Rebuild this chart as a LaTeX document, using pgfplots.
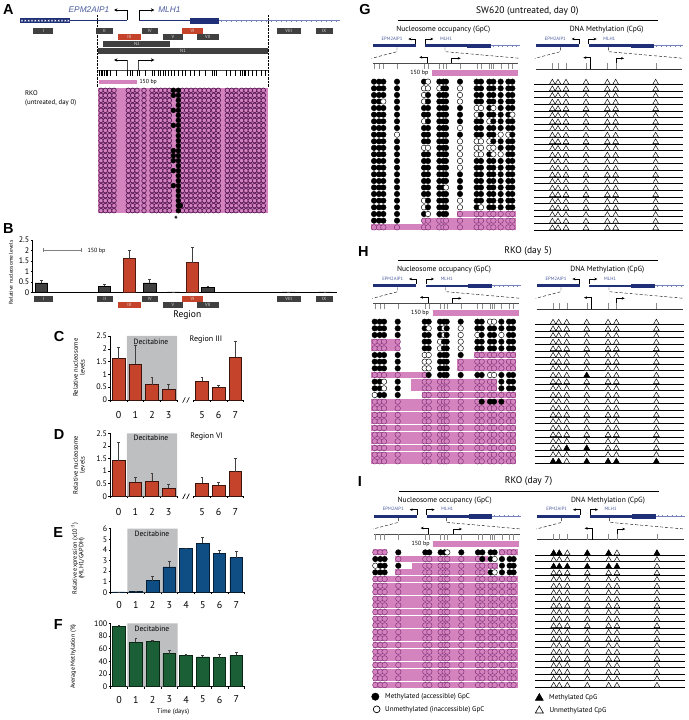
\documentclass[border=0pt]{standalone}
\usepackage{fontspec}
\usepackage{pgfplots}
\usepackage{pgfplotstable}
\pgfplotsset{compat=1.18}
\usetikzlibrary{arrows.meta}
\setmainfont{PT Sans}
\newfontfamily\hel{Liberation Sans}

\definecolor{navybar}{HTML}{1F2F78}
\definecolor{tailblue}{HTML}{7482BE}
\definecolor{genetext}{HTML}{4A5A9E}
\definecolor{pinkbar}{HTML}{D583BF}
\definecolor{circ}{HTML}{7A2F73}
\definecolor{circdark}{HTML}{571B57}
\definecolor{boxgray}{HTML}{404040}
\definecolor{boxred}{HTML}{C5432A}
\definecolor{barblue}{HTML}{0F4E85}
\definecolor{bargreen}{HTML}{1A5F35}
\definecolor{deci}{HTML}{BEBFC1}

\newcommand\fs[1]{\fontsize{#1}{#1}\selectfont}
\newcommand\panel[3]{\node[font=\hel\bfseries\fs{14.5},inner sep=0pt] at (#1,#2) {#3};}
\newcommand\regbox[6]{\fill[#5] (#1,#2) rectangle (#3,#4) node[midway,text=white!75!gray,font=\fs{4.6},inner sep=0pt] {#6};}

\pgfplotsset{
  zoomed/.style 2 args={hide axis,scale only axis,clip=false,
    xmin=0,xmax=1014,ymin=0,ymax=720,y dir=reverse,
    width=338pt,height=240pt,at={(#1pt,#2pt)},anchor=south west,
    unbounded coords=jump},
  pinkrows/.style={pinkbar,line width=5.8pt,line cap=butt,forget plot},
  gpc/.style={scatter,only marks,scatter src=explicit symbolic,mark size=2.75pt,line width=.45pt,
    scatter/classes={
      0={mark=*,fill=white,draw=black},
      1={mark=*,fill=black,draw=black},
      2={mark=*,fill=pinkbar,draw=circ}}},
  cpgopen/.style={only marks,mark=triangle*,mark size=3.3pt,mark options={fill=white,draw=black,line width=.45pt}},
  cpgfull/.style={only marks,mark=triangle*,mark size=3.3pt,mark options={fill=black,draw=black,line width=.45pt}},
  barax/.style={scale only axis,axis x line=bottom,axis y line=left,axis line style={-,line width=.6pt},
    tick style={black,line width=.5pt},tick align=outside,major tick length=2.2pt,
    /pgf/number format/assume math mode=true,
    yticklabel style={font=\fs{8},inner sep=1pt},
    xticklabel style={font=\fs{10}},clip=false},
  days/.style={x tick label as interval,xmin=-0.5,xmax=7.5,xtick={-0.5,0.5,...,7.5}},
  valbar/.style 2 args={ybar,bar shift=0pt,bar width=12.7pt,fill=#1,draw=#2,line width=.7pt,
    error bars/.cd,y dir=plus,y explicit,
    error bar style={draw=black!75,line width=.7pt},
    error mark options={rotate=90,mark size=1.3pt,draw=black!75,line width=.6pt}},
}

% GpC rows: one column per GpC site, 0 open, 1 filled, 2 open on a pink footprint
\pgfplotstableread{
y 72 87 100 141 222 234 268 280 288 330 380 393 418 430 452 475 487
245 1 1 1 1 1 0 1 1 1 1 1 1 1 1 1 1 1
265 1 1 1 1 0 0 0 1 1 0 1 1 1 1 1 1 1
285 1 1 1 1 0 1 1 1 1 0 1 1 1 1 1 1 1
304.5 1 1 0 1 0 1 1 1 1 0 1 1 1 1 1 1 1
324 1 1 1 1 1 1 1 1 1 1 0 0 1 0 1 1 1
344 1 1 1 1 1 1 1 1 1 1 0 1 1 1 1 1 0
364 1 1 1 1 0 1 1 1 1 1 1 1 0 1 1 1 1
384 1 1 1 1 1 1 1 1 1 0 1 1 1 1 1 1 1
404 1 1 1 0 1 1 1 1 1 1 1 1 1 1 0 0 1
424 1 1 1 1 1 1 1 1 1 0 0 0 0 1 1 1 1
443.5 1 1 1 1 0 0 1 1 1 0 0 0 0 0 1 1 1
463 1 1 1 1 1 1 1 1 1 0 0 0 1 0 0 1 1
483 1 1 1 1 1 1 1 1 1 0 1 1 1 1 1 1 1
503 1 1 1 1 1 1 1 1 1 0 1 1 1 1 1 1 1
523 1 1 1 1 1 1 1 1 1 1 1 1 1 1 1 1 1
543 1 1 1 1 1 1 1 1 1 1 1 1 1 1 1 1 1
562.5 1 1 1 1 1 1 1 1 0 1 1 1 1 1 1 1 1
582 1 1 1 1 1 1 1 1 1 1 1 1 1 1 1 1 1
602 1 1 1 1 0 1 1 1 1 0 1 1 1 1 1 1 1
622 1 1 1 1 0 1 1 1 1 0 1 0 1 1 1 1 1
642 1 1 1 1 1 0 1 1 1 2 2 2 2 2 2 2 2
662 1 1 1 1 2 2 2 2 2 2 2 2 2 2 2 2 2
682 2 2 2 2 2 2 2 2 2 2 2 2 2 2 2 2 2
}\TabG
\pgfplotstableread{
y 72 87 100 141 222 234 268 280 288 330 380 393 418 430 452 475 487
245 1 1 1 1 1 1 1 1 1 1 1 1 0 0 1 1 1
265 1 1 1 1 1 0 1 0 1 0 1 1 1 1 1 1 1
285 1 1 1 1 1 1 1 0 1 0 0 1 1 1 0 1 1
305 2 2 2 2 1 1 0 1 1 0 1 1 1 1 1 1 1
325 2 2 2 2 1 1 0 1 1 0 1 1 1 1 1 1 1
345 1 1 1 1 0 0 1 1 1 1 2 2 2 2 2 2 2
365 1 1 1 1 0 0 1 1 1 2 2 2 2 2 2 2 2
385 1 1 1 1 0 0 1 1 1 2 2 2 2 2 2 2 2
405 2 2 2 2 2 1 1 1 1 1 1 1 0 0 1 1 1
425 1 1 0 1 2 2 2 2 2 2 2 2 2 2 1 1 1
445 1 1 0 1 2 2 2 2 2 2 2 2 2 2 1 1 1
465 0 1 1 1 2 2 2 2 2 2 2 2 2 2 2 2 2
485 2 2 2 2 2 2 2 2 2 2 2 1 1 1 1 2 2
505 2 2 2 2 2 2 2 2 2 2 2 2 2 2 2 2 2
525 2 2 2 2 2 2 2 2 2 2 2 2 2 2 2 2 2
544 2 2 2 2 2 2 2 2 2 2 2 2 2 2 2 2 2
564 2 2 2 2 2 2 2 2 2 2 2 2 2 2 2 2 2
584 2 2 2 2 2 2 2 2 2 2 2 2 2 2 2 2 2
604 2 2 2 2 2 2 2 2 2 2 2 2 2 2 2 2 2
624 2 2 2 2 2 2 2 2 2 2 2 2 2 2 2 2 2
644 2 2 2 2 2 2 2 2 2 2 2 2 2 2 2 2 2
664 2 2 2 2 2 2 2 2 2 2 2 2 2 2 2 2 2
}\TabH
\pgfplotstableread{
y 72 87 100 141 222 234 268 280 288 330 380 393 418 430 452 475 487
245 2 2 2 1 1 1 1 1 0 1 1 1 1 1 2 2 2
265 1 1 1 2 2 2 2 2 2 2 2 1 1 0 1 1 1
285 0 1 1 1 2 2 2 2 2 2 2 2 2 2 1 1 1
305 1 1 1 2 2 2 2 2 2 2 2 2 1 0 1 1 1
325 2 2 2 2 2 2 2 2 2 2 2 2 2 2 2 2 2
345 2 2 2 2 2 2 2 2 2 2 2 2 2 2 2 2 2
364 2 2 2 2 2 2 2 2 2 2 2 2 2 2 2 2 2
384 2 2 2 2 2 2 2 2 2 2 2 2 2 2 2 2 2
404 2 2 2 2 2 2 2 2 2 2 2 2 2 2 2 2 2
424 2 2 2 2 2 2 2 2 2 2 2 2 2 2 2 2 2
444 2 2 2 2 2 2 2 2 2 2 2 2 2 2 2 2 2
464 2 2 2 2 2 2 2 2 2 2 2 2 2 2 2 2 2
484 2 2 2 2 2 2 2 2 2 2 2 2 2 2 2 2 2
503 2 2 2 2 2 2 2 2 2 2 2 2 2 2 2 2 2
523 2 2 2 2 2 2 2 2 2 2 2 2 2 2 2 2 2
543 2 2 2 2 2 2 2 2 2 2 2 2 2 2 2 2 2
563 2 2 2 2 2 2 2 2 2 2 2 2 2 2 2 2 2
583 2 2 2 2 2 2 2 2 2 2 2 2 2 2 2 2 2
603 2 2 2 2 2 2 2 2 2 2 2 2 2 2 2 2 2
623 2 2 2 2 2 2 2 2 2 2 2 2 2 2 2 2 2
643 2 2 2 2 2 2 2 2 2 2 2 2 2 2 2 2 2
}\TabI
% CpG rows: height of the open triangles, one per read
\pgfplotstableread{
y
247.6
267.4
287.3
307.1
327
346.9
366.7
386.5
406.4
426.2
446.1
466
485.8
505.6
525.5
545.3
565.2
585
604.9
624.8
644.6
664.5
684.3
}\TabCpg
\pgfplotstableread{
y
271
286
301
316
331
346
361
376
391
407
422
437
452
467
482
497
512
527
542
557
572
587
602
617
632
}\TabA

\newcommand\gpcrows[1]{%
  \pgfplotsinvokeforeach{72,87,100,141,222,234,268,280,288,330,380,393,418,430,452,475,487}{%
    \addplot[gpc] table[x expr=##1,y=y,meta=##1]{#1};}}
\newcommand\cpgrows[1]{%
  \pgfplotsinvokeforeach{607,624,648,708,772,797,917}{%
    \addplot[cpgopen,skip coords between index={#1}{99}] table[x expr=##1,y=y]{\TabCpg};}}
\newcommand\cpglines[1]{%
  \pgfplotsinvokeforeach{#1}{\addplot[black,line width=.55pt] coordinates {(552,##1) (1000,##1)};}}

\newcommand\genemap[1]{%
  \node[font=\fs{9.5},inner sep=0pt] at (532,32) {#1};
  \draw[line width=.55pt] (143,61) -- (923,61);
  \node[font=\fs{7.5},inner sep=0pt] at (280,90) {Nucleosome occupancy (GpC)};
  \node[font=\fs{7.5},inner sep=0pt] at (770,90) {DNA Methylation (CpG)};
  \pgfplotsinvokeforeach{0,490}{%
    \fill[navybar] ({68+##1},133) rectangle ({197+##1},142);
    \fill[navybar] ({226+##1},133.5) rectangle ({352+##1},141.5);
    \fill[navybar] ({352+##1},131) rectangle ({423+##1},145);
    \draw[tailblue,line width=.6pt] ({423+##1},137) -- ({510+##1},137);
    \draw[line width=.45pt,-{Stealth[length=3pt,width=2.6pt]}] ({197+##1},133) -- ({197+##1},117) -- ({175+##1},117);
    \draw[line width=.45pt,-{Stealth[length=3pt,width=2.6pt]}] ({226+##1},133) -- ({226+##1},117) -- ({250+##1},117);
    \node[font=\fs{4.7},text=genetext,inner sep=0pt] at ({126+##1},115) {EPM2AIP1};
    \node[font=\fs{4.7},text=genetext,inner sep=0pt] at ({288+##1},115) {MLH1};
    \draw[line width=.4pt,densely dashed] ({141+##1},142) -- ({141+##1},155) -- ({65+##1},175);
    \draw[line width=.4pt,densely dashed] ({285+##1},142) -- ({285+##1},155) -- ({510+##1},175);
    \addplot[only marks,mark=+,mark size=1pt,tailblue,mark options={line width=.4pt}] coordinates
      {({430+##1},137) ({444+##1},137) ({458+##1},137) ({472+##1},137) ({486+##1},137) ({500+##1},137)};
  }
  \draw[black!70,line width=.5pt] (68,190) -- (505,190);
  \addplot[only marks,mark=|,mark size=2.6pt,black!45,mark options={line width=.3pt}] coordinates
    {(72,199) (87,199) (100,199) (141,199) (222,199) (234,199) (268,199) (280,199) (288,199)
     (330,199) (380,199) (393,199) (418,199) (424,199) (430,199) (452,199) (475,199) (487,199)};
  \draw[line width=.45pt,-{Stealth[length=3pt,width=2.6pt]}] (232,190) -- (232,172) -- (208,172);
  \draw[line width=.45pt,-{Stealth[length=3pt,width=2.6pt]}] (305,190) -- (305,175) -- (332,175);
  \addplot[pinkbar,line width=6pt] coordinates {(246,219) (504,219)};
  \node[font=\fs{6},inner sep=0pt] at (208,219) {150 bp};
  \draw[black!80,line width=.5pt] (558,207) -- (997,207);
  \addplot[only marks,mark=|,mark size=2.8pt,black!45,mark options={line width=.3pt}] coordinates
    {(607,198) (624,198) (648,198) (708,198) (772,198) (797,198) (917,198)};
  \draw[line width=.6pt,-{Stealth[length=3pt,width=2.6pt]}] (722,207) -- (722,173) -- (700,173);
  \draw[line width=.45pt,-{Stealth[length=3pt,width=2.6pt]}] (798,207) -- (798,175) -- (822,175);
}

\begin{document}
\begin{tikzpicture}
\path[use as bounding box] (0,0) rectangle (688pt,720pt);

% ---------- A, and the letter B
\begin{axis}[zoomed={0}{480}]
  \panel{25}{28}{A}
  \panel{25}{685}{B}
  \fill[navybar] (60,55) rectangle (210,69);
  \addplot[only marks,mark=x,mark size=1.1pt,white,mark options={line width=.4pt}] coordinates
    {(66,62) (76,62) (86,62) (96,62) (106,62) (116,62) (126,62) (136,62) (146,62) (156,62)
     (166,62) (176,62) (186,62) (196,62) (205,62)};
  \draw[navybar,line width=1.3pt] (210,62) -- (382,62);
  \draw[navybar,line width=1.3pt] (418,62) -- (570,62);
  \fill[navybar] (570,54) rectangle (657,71);
  \draw[tailblue,line width=.6pt] (657,62) -- (1020,62);
  \addplot[only marks,mark=+,mark size=.9pt,tailblue,mark options={line width=.35pt}] coordinates
    {(665,62) (680,62) (695,62) (710,62) (725,62) (740,62) (755,62) (770,62) (785,62) (800,62)
     (815,62) (830,62) (845,62) (860,62) (875,62) (890,62) (905,62) (920,62) (935,62) (950,62)
     (965,62) (980,62) (995,62) (1010,62)};
  \draw[black,line width=.7pt,-{Stealth[length=3.5pt,width=3.4pt]}] (382,60) -- (382,30) -- (342,30);
  \draw[black,line width=.7pt,-{Stealth[length=3.5pt,width=3.4pt]}] (418,60) -- (418,30) -- (463,30);
  \node[font=\hel\itshape\fs{8.3},text=genetext,inner sep=0pt] at (267,30) {EPM2AIP1};
  \node[font=\hel\itshape\fs{8.3},text=genetext,inner sep=0pt] at (508,30) {MLH1};
  \draw[line width=.4pt,densely dotted] (293,45) -- (293,262);
  \draw[line width=.4pt,densely dotted] (805,45) -- (805,262);
  \regbox{100}{83}{160}{101}{boxgray}{I}
  \regbox{288}{83}{338}{101}{boxgray}{II}
  \regbox{425}{83}{473}{101}{boxgray}{IV}
  \regbox{830}{83}{902}{101}{boxgray}{VIII}
  \regbox{947}{83}{998}{101}{boxgray}{IX}
  \regbox{354}{102}{422}{120}{boxred}{III}
  \regbox{547}{83}{608}{101}{boxred}{VI}
  \regbox{488}{103}{550}{120}{boxgray}{V}
  \regbox{590}{103}{657}{120}{boxgray}{VII}
  \regbox{310}{123}{511}{141}{boxgray}{N2}
  \regbox{293}{144}{805}{161}{boxgray}{N1}
  \draw[black!70,line width=.6pt] (382,210) -- (382,180);
  \draw[black,line width=.6pt,-{Stealth[length=3.5pt,width=3.4pt]}] (382,180) -- (342,180);
  \draw[black!70,line width=.6pt] (415,210) -- (415,180);
  \draw[black,line width=.6pt,-{Stealth[length=3.5pt,width=3.4pt]}] (415,180) -- (463,180);
  \draw[black!70,line width=.5pt] (293,210) -- (805,210);
  \addplot[only marks,mark=|,mark size=2.6pt,black,mark options={line width=.45pt}] coordinates
    {(298,219) (303,219) (308,219) (313,219) (318,219) (323,219) (330,219) (350,219) (382,219)
     (390,219) (398,219) (412,219) (418,219) (436,219) (458,219) (463,219) (476,219) (480,219)
     (490,219) (497,219) (505,219) (513,219) (522,219) (535,219) (546,219) (556,219) (570,219)
     (583,219) (598,219) (616,219) (637,219) (643,219) (650,219) (680,219) (690,219) (705,219)
     (722,219) (727,219) (732,219) (737,219) (746,219) (756,219) (768,219) (783,219) (796,219)};
  \addplot[pinkbar,line width=4pt] coordinates {(297,245) (412,245)};
  \node[font=\fs{5.8},inner sep=0pt,anchor=west] at (418,245) {150 bp};
  \node[font=\fs{6.8},inner sep=0pt,anchor=west] at (75,278) {RKO};
  \node[font=\fs{6.8},inner sep=0pt,anchor=west] at (75,307) {(untreated, day 0)};
  \fill[pinkbar] (293,264) rectangle (803,640);
  \pgfplotsinvokeforeach{303,316,329,342,385,398,411,432,456,469,482,495,508,547,560,573,586,600,613,626,641,655,682,695,708,725,738,751,764,777,790}{%
    \addplot[only marks,mark=*,mark size=2.3pt,mark options={fill=pinkbar,draw=circdark,line width=.7pt}] table[x expr=#1,y=y]{\TabA};}
  \addplot[only marks,mark=*,mark size=2.5pt,black] coordinates
    {(520,271) (520,286) (520,331) (520,376) (520,452) (520,467) (520,482) (520,512) (520,557)};
  \addplot[only marks,mark=*,mark size=2.5pt,black] table[x expr=535,y=y]{\TabA};
  \addplot[only marks,mark=*,mark size=2.5pt,black] coordinates {(541,617)};
  \node[font=\bfseries\fs{10},inner sep=0pt] at (528,660) {*};
\end{axis}

% ---------- B
\begin{axis}[barax,at={(32.7pt,427.7pt)},anchor=south west,width=304pt,height=52.3pt,
    xmin=98,xmax=1010,ymin=0,ymax=2.5,xtick=\empty,ytick={0,0.5,...,2.5}]
  \addplot[valbar={boxgray}{black}] coordinates
    {(124,0.45) +- (0,0.13) (313,0.3) +- (0,0.1) (449,0.45) +- (0,0.17) (520,0.015) +- (0,0)
     (624,0.25) +- (0,0.05) (866,0.015) +- (0,0) (975,0.015) +- (0,0)};
  \addplot[valbar={boxred}{black!60!boxred}] coordinates {(388,1.6) +- (0,0.43) (577,1.42) +- (0,0.73)};
\end{axis}

% ---------- C
\begin{axis}[barax,days,at={(110.3pt,320pt)},anchor=south west,width=133.4pt,height=64pt,
    xticklabel style={yshift=-6pt},
    ymin=0,ymax=2.5,ytick={0,0.5,...,2.5},xticklabels={0,1,2,3,,5,6,7}]
  \addplot[fill=deci,draw=none,forget plot] coordinates {(0.5,0) (3.5,0) (3.5,2.5) (0.5,2.5)} \closedcycle;
  \addplot[valbar={boxred}{black!70!boxred}] coordinates
    {(0,1.62) +- (0,0.43) (1,1.4) +- (0,0.72) (2,0.6) +- (0,0.28) (3,0.42) +- (0,0.2)
     (5,0.73) +- (0,0.14) (6,0.5) +- (0,0.08) (7,1.67) +- (0,0.61)};
\end{axis}

% ---------- D
\begin{axis}[barax,days,at={(110.3pt,223.7pt)},anchor=south west,width=133.4pt,height=63pt,
    xticklabel style={yshift=-6pt},
    ymin=0,ymax=2.5,ytick={0,0.5,...,2.5},xticklabels={0,1,2,3,,5,6,7}]
  \addplot[fill=deci,draw=none,forget plot] coordinates {(0.5,0) (3.5,0) (3.5,2.5) (0.5,2.5)} \closedcycle;
  \addplot[valbar={boxred}{black!70!boxred}] coordinates
    {(0,1.42) +- (0,0.73) (1,0.55) +- (0,0.2) (2,0.6) +- (0,0.3) (3,0.32) +- (0,0.15)
     (5,0.52) +- (0,0.23) (6,0.43) +- (0,0.12) (7,0.98) +- (0,0.52)};
\end{axis}

% ---------- E
\begin{axis}[barax,days,at={(110.7pt,127.7pt)},anchor=south west,width=133.9pt,height=63.6pt,
    xticklabel style={yshift=-3.5pt},
    ymin=0,ymax=6,ytick={0,1,...,6},xticklabels={0,1,2,3,4,5,6,7}]
  \addplot[fill=deci,draw=none,forget plot] coordinates {(0.5,0) (3.5,0) (3.5,6) (0.5,6)} \closedcycle;
  \addplot[valbar={barblue}{black!60!barblue}] coordinates
    {(0,0.03) +- (0,0) (1,0.05) +- (0,0) (2,1.1) +- (0,0.45) (3,2.4) +- (0,0.5)
     (4,4.12) +- (0,0.06) (5,4.65) +- (0,0.5) (6,3.7) +- (0,0.3) (7,3.25) +- (0,0.58)};
\end{axis}

% ---------- F
\begin{axis}[barax,days,at={(110.7pt,33.3pt)},anchor=south west,width=133.9pt,height=63.4pt,
    xticklabel style={yshift=-3.5pt},
    ymin=0,ymax=100,ytick={0,20,...,100},xticklabels={0,1,2,3,4,5,6,7}]
  \addplot[fill=deci,draw=none,forget plot] coordinates {(0.5,0) (3.5,0) (3.5,100) (0.5,100)} \closedcycle;
  \addplot[valbar={bargreen}{black!60!bargreen}] coordinates
    {(0,95.5) +- (0,1.5) (1,70) +- (0,6) (2,71) +- (0,2) (3,52) +- (0,5)
     (4,49.5) +- (0,1) (5,47) +- (0,2) (6,46) +- (0,5) (7,49.5) +- (0,4.5)};
\end{axis}

% ---------- labels on B, C, D
\begin{axis}[zoomed={0}{250}]
  \node[font=\fs{5.5},rotate=90,inner sep=0pt] at (33,127) {Relative nucleosome levels};
  \addplot[gray,line width=.5pt,mark=|,mark size=2pt,mark options={solid}] coordinates {(130,60) (245,60)};
  \node[font=\fs{6},inner sep=0pt,anchor=west] at (262,62) {150 bp};
  \regbox{102}{197}{160}{215}{boxgray}{I}
  \regbox{290}{197}{338}{215}{boxgray}{II}
  \regbox{425}{197}{473}{215}{boxgray}{IV}
  \regbox{547}{197}{608}{215}{boxred}{VI}
  \regbox{830}{197}{902}{215}{boxgray}{VIII}
  \regbox{947}{197}{998}{215}{boxgray}{IX}
  \regbox{354}{217}{422}{235}{boxred}{III}
  \regbox{488}{217}{550}{235}{boxgray}{V}
  \regbox{590}{217}{657}{235}{boxgray}{VII}
  \node[font=\fs{9.5},inner sep=0pt] at (562,254) {Region};
  \panel{177}{320}{C}
  \panel{177}{615}{D}
  \node[font=\fs{7.6},inner sep=0pt] at (453,335) {Decitabine};
  \node[font=\fs{7.6},inner sep=0pt] at (453,623) {Decitabine};
  \node[font=\fs{8},inner sep=0pt] at (618,330) {Region III};
  \node[font=\fs{8},inner sep=0pt] at (620,621) {Region VI};
  \node[font=\fs{6.6},rotate=90,align=center,inner sep=0pt] at (237,413) {Relative nucleosome\\levels};
  \node[font=\fs{6.6},rotate=90,align=center,inner sep=0pt] at (237,705) {Relative nucleosome\\levels};
  \pgfplotsinvokeforeach{510,799}{%
    \draw[white,line width=1.6pt] (535,#1) -- (578,#1);
    \draw[line width=.6pt] (548,{#1+8}) -- (556,{#1-8});
    \draw[line width=.6pt] (560,{#1+8}) -- (568,{#1-8});
  }
\end{axis}

% ---------- labels on E, F
\begin{axis}[zoomed={0}{0}]
  \panel{175}{157}{E}
  \panel{175}{435}{F}
  \node[font=\fs{7.6},inner sep=0pt] at (456,163) {Decitabine};
  \node[font=\fs{7.6},inner sep=0pt] at (456,447) {Decitabine};
  \node[font=\fs{6.3},rotate=90,align=center,inner sep=0pt] at (234,235) {Relative expression (x10\textsuperscript{-3})\\(MLH1/GAPDH)};
  \node[font=\fs{6.2},rotate=90,inner sep=0pt] at (220,530) {Average Methylation (\%)};
  \node[font=\fs{6.6},inner sep=0pt] at (519,697) {Time (days)};
\end{axis}

% ---------- G
\begin{axis}[zoomed={350}{480}]
  \panel{45}{30}{G}
  \genemap{SW620 (untreated, day 0)}
  \addplot[pinkrows] coordinates {(322,642) (497,642) (0,nan) (215,662) (497,662) (0,nan) (62,682) (497,682)};
  \gpcrows{\TabG}
  \cpglines{253,272.9,292.7,312.6,332.4,352.3,372.1,392,411.8,431.7,451.5,471.4,491.2,511.1,530.9,550.8,570.6,590.5,610.3,630.2,650,669.9,689.7}
  \cpgrows{23}
\end{axis}

% ---------- H
\begin{axis}[zoomed={350.7}{240}]
  \panel{38}{35}{H}
  \genemap{RKO (day 5)}
  \addplot[pinkrows] coordinates {(60,305) (148,305) (0,nan) (60,325) (148,325) (0,nan)
    (370,345) (495,345) (0,nan) (320,365) (495,365) (0,nan) (320,385) (495,385) (0,nan)
    (60,405) (233,405) (0,nan) (180,425) (438,425) (0,nan) (180,445) (438,445) (0,nan)
    (213,465) (495,465) (0,nan) (60,485) (495,485) (0,nan) (60,505) (495,505) (0,nan)
    (60,525) (495,525) (0,nan) (60,544) (495,544) (0,nan) (60,564) (495,564) (0,nan)
    (60,584) (495,584) (0,nan) (60,604) (495,604) (0,nan) (60,624) (495,624) (0,nan)
    (60,644) (495,644) (0,nan) (60,664) (495,664)};
  \gpcrows{\TabH}
  \cpglines{253,272.9,292.7,312.6,332.4,352.3,372.1,392,411.8,431.7,451.5,471.4,491.2,511.1,530.9,550.8,570.6,590.5,610.3,630.2,650,669.9}
  \cpgrows{22}
  \addplot[cpgfull] coordinates {(708,406.4) (648,624.8) (708,624.8) (607,664.5) (624,664.5)
    (708,664.5) (772,664.5) (797,664.5) (917,664.5)};
\end{axis}

% ---------- I
\begin{axis}[zoomed={351.3}{9.3}]
  \panel{26}{33}{I}
  \genemap{RKO (day 7)}
  \addplot[pinkrows] coordinates {(66,245) (108,245) (0,nan) (444,245) (499,245) (0,nan)
    (130,265) (411,265) (0,nan) (183,285) (441,285) (0,nan) (130,305) (411,305) (0,nan)
    (66,325) (499,325) (0,nan) (66,345) (499,345) (0,nan) (66,364) (499,364) (0,nan)
    (66,384) (499,384) (0,nan) (66,404) (499,404) (0,nan) (66,424) (499,424) (0,nan)
    (66,444) (499,444) (0,nan) (66,464) (499,464) (0,nan) (66,484) (499,484) (0,nan)
    (66,503) (499,503) (0,nan) (66,523) (499,523) (0,nan) (66,543) (499,543) (0,nan)
    (66,563) (499,563) (0,nan) (66,583) (499,583) (0,nan) (66,603) (499,603) (0,nan)
    (66,623) (499,623) (0,nan) (66,643) (499,643)};
  \gpcrows{\TabI}
  \cpglines{253,272.9,292.7,312.6,332.4,352.3,372.1,392,411.8,431.7,451.5,471.4,491.2,511.1,530.9,550.8,570.6,590.5,610.3,630.2,650}
  \cpgrows{21}
  \addplot[cpgfull] coordinates {(607,247.6) (624,247.6) (708,247.6) (772,247.6) (917,247.6)
    (607,287.3) (624,287.3) (648,287.3) (708,287.3) (772,287.3) (797,287.3)};
\end{axis}

% ---------- key under I
\begin{axis}[zoomed={350}{0}]
  \addplot[only marks,mark=*,mark size=3.7pt,mark options={fill=black,draw=black}] coordinates {(76,650)};
  \addplot[only marks,mark=*,mark size=3.4pt,mark options={fill=white,draw=black,line width=.7pt}] coordinates {(80,688)};
  \addplot[only marks,mark=triangle*,mark size=4.6pt,mark options={fill=black,draw=black}] coordinates {(568,654)};
  \addplot[only marks,mark=triangle*,mark size=4.6pt,mark options={fill=white,draw=black,line width=.6pt}] coordinates {(568,692)};
  \node[font=\fs{7.1},inner sep=0pt,anchor=west] at (105,651) {Methylated (accessible) GpC};
  \node[font=\fs{7.1},inner sep=0pt,anchor=west] at (105,690) {Unmethylated (inaccessible) GpC};
  \node[font=\fs{7.1},inner sep=0pt,anchor=west] at (597,652) {Methylated CpG};
  \node[font=\fs{7.1},inner sep=0pt,anchor=west] at (598,692) {Unmethylated CpG};
\end{axis}
\end{tikzpicture}
\end{document}
